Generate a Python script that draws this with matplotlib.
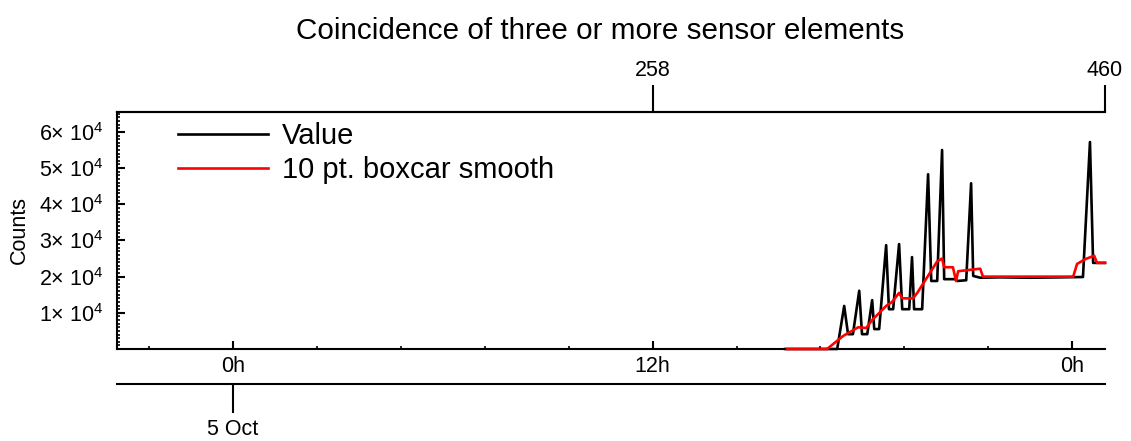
import matplotlib
matplotlib.use("Agg")
import matplotlib.pyplot as plt
from matplotlib.ticker import MultipleLocator, FixedLocator

plt.rcParams['font.family'] = ['Liberation Sans', 'DejaVu Sans']
plt.rcParams['mathtext.fontset'] = 'custom'
plt.rcParams['mathtext.rm'] = 'Liberation Sans'
plt.rcParams['mathtext.it'] = 'Liberation Sans:italic'
plt.rcParams['mathtext.bf'] = 'Liberation Sans:bold'

# ---- data (hours since 5 Oct 00:00, counts) ----
value_hours = [15.79, 17.28, 17.48, 17.59, 17.73, 17.91, 17.99, 18.14, 18.28, 18.34,
               18.48, 18.68, 18.76, 18.88, 19.05, 19.14, 19.34, 19.42, 19.48, 19.71,
               19.88, 19.97, 20.14, 20.28, 20.34, 20.65, 20.71, 20.97, 21.11, 21.17,
               21.37, 21.94, 22.80, 23.66, 24.31, 24.51, 24.60, 24.94]
value_counts = [0, 0, 11900, 4100, 4100, 16100, 4100, 4100, 13500, 5500,
                5500, 28700, 11000, 11000, 29000, 11000, 11000, 25400, 11000, 11000,
                48300, 18800, 18800, 55000, 19300, 19300, 18800, 19000, 45800, 20200,
                19700, 19800, 19700, 19800, 19900, 57200, 23800, 23800]

smooth_hours = [15.85, 16.99, 17.45, 17.88, 18.11, 18.28, 18.68, 18.85, 19.05, 19.14,
                19.45, 19.57, 20.14, 20.28, 20.34, 20.59, 20.68, 20.74, 21.37, 21.45,
                24.03, 24.14, 24.37, 24.63, 24.71, 24.94]
smooth_counts = [0, 0, 3600, 6000, 5800, 8000, 11900, 13000, 15500, 14000,
                 14000, 15500, 24200, 25000, 22600, 22600, 18800, 21500, 22200, 20000,
                 20000, 23500, 24800, 25800, 23800, 23800]

xtick_pos = [0, 12, 24]
xtick_labels = ['0h', '12h', '0h']
ytick_pos = [10000, 20000, 30000, 40000, 50000, 60000]
ytick_labels = ['1× 10$^{4}$', '2× 10$^{4}$', '3× 10$^{4}$',
                '4× 10$^{4}$', '5× 10$^{4}$', '6× 10$^{4}$']
top_ticks = [258, 460]
date_label = '5 Oct'

W, H = 1131, 441
fig = plt.figure(figsize=(W / 100, H / 100), dpi=100)
L, R, B, T = 117, 1105, 349, 112
ax = fig.add_axes([L / W, 1 - B / H, (R - L) / W, (B - T) / H])

lw = 1.5
ax.plot(value_hours, value_counts, color='black', lw=1.9, label='Value',
        clip_on=False, zorder=3)
ax.plot(smooth_hours, smooth_counts, color='red', lw=1.9, label='10 pt. boxcar smooth',
        clip_on=False, zorder=3.1)

ax.set_xlim(-3.32, 24.94)
ax.set_ylim(0, 65500)

for s in ['left', 'bottom', 'top']:
    ax.spines[s].set_linewidth(lw)
ax.spines['right'].set_visible(False)

ax.set_xticks(xtick_pos)
ax.set_xticklabels(xtick_labels)
ax.xaxis.set_minor_locator(MultipleLocator(2.4))
ax.set_yticks(ytick_pos)
ax.set_yticklabels(ytick_labels)
ax.yaxis.set_minor_locator(MultipleLocator(1000))

ax.tick_params(axis='both', which='major', direction='in', length=5.5, width=lw,
               labelsize=15.5)
ax.tick_params(axis='both', which='minor', direction='in', length=2.5, width=1.2)
ax.tick_params(axis='x', which='major', pad=5)
ax.tick_params(axis='y', which='major', pad=10)
ax.tick_params(top=False, right=False, which='both')
ax.set_ylabel('Counts', fontsize=15.5, labelpad=6)

# top axis: sample index
def t2i(t):
    return 258 + (t - 12) * 202.0 / 12.94

def i2t(i):
    return 12 + (i - 258) * 12.94 / 202.0

top = ax.secondary_xaxis('top', functions=(t2i, i2t))
top.xaxis.set_major_locator(FixedLocator(top_ticks))
top.xaxis.set_minor_locator(FixedLocator([]))
top.tick_params(direction='out', length=19.5, width=lw, labelsize=15.5, pad=3)
top.spines['top'].set_linewidth(lw)

# second bottom axis: date
low = ax.secondary_xaxis(-(384 - 349) / (B - T))
low.set_xticks([0])
low.set_xticklabels([date_label])
low.xaxis.set_minor_locator(FixedLocator([]))
low.tick_params(direction='out', length=21, width=lw, labelsize=15.5, pad=4)
low.spines['bottom'].set_linewidth(lw)

fig.suptitle('Coincidence of three or more sensor elements', fontsize=21.3,
             x=600 / W, y=1 - 31 / H, va='center')

ax.legend(loc='upper left', bbox_to_anchor=((178 - L) / (R - L), (B - 122) / (B - T)),
          frameon=False, fontsize=21, handlelength=3.1, handletextpad=0.45,
          labelspacing=0.2, borderpad=0, borderaxespad=0)

fig.savefig('out.png', dpi=100)
